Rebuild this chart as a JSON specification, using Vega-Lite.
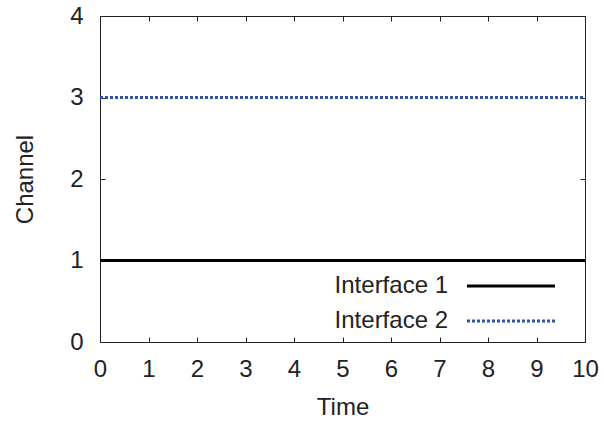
{
  "$schema": "https://vega.github.io/schema/vega-lite/v6.json",
  "width": 485,
  "height": 326,
  "autosize": "none",
  "padding": {"left": 100, "top": 16, "right": 19, "bottom": 79},
  "background": "white",
  "config": {
    "view": {"stroke": "#222222", "strokeWidth": 1},
    "font": "Liberation Sans",
    "axis": {
      "domain": false,
      "grid": false,
      "tickColor": "#222222",
      "tickSize": -5,
      "tickWidth": 1,
      "labelFont": "Liberation Sans",
      "labelFontSize": 24,
      "labelColor": "#222222",
      "titleFont": "Liberation Sans",
      "titleFontSize": 24,
      "titleFontWeight": "normal",
      "titleColor": "#222222",
      "labelFlush": false,
      "labelOverlap": false
    }
  },
  "data": {
    "values": [
      {"time": 0, "channel": 1, "series": "Interface 1"},
      {"time": 10, "channel": 1, "series": "Interface 1"},
      {"time": 0, "channel": 3, "series": "Interface 2"},
      {"time": 10, "channel": 3, "series": "Interface 2"}
    ]
  },
  "layer": [
    {
      "mark": {"type": "line", "strokeWidth": 3, "clip": true},
      "encoding": {
        "x": {
          "field": "time", "type": "quantitative",
          "scale": {"domain": [0, 10], "nice": false},
          "axis": {"orient": "bottom", "values": [0,1,2,3,4,5,6,7,8,9,10], "format": "d", "title": "Time", "labelPadding": 20, "titlePadding": 14}
        },
        "y": {
          "field": "channel", "type": "quantitative",
          "scale": {"domain": [0, 4], "nice": false},
          "axis": {"orient": "left", "values": [0,1,2,3,4], "format": "d", "title": "Channel", "labelPadding": 22, "titlePadding": 32}
        },
        "color": {
          "field": "series", "type": "nominal",
          "scale": {"domain": ["Interface 1", "Interface 2"], "range": ["#000000", "#2f52ab"]},
          "legend": {
            "orient": "none",
            "legendX": 348,
            "legendY": 258,
            "title": null,
            "padding": 0,
            "symbolType": "M-4.4,0H4.4",
            "symbolSize": 400,
            "symbolStrokeWidth": 3,
            "labelFont": "Liberation Sans",
            "labelFontSize": 24,
            "labelColor": "#222222",
            "rowPadding": 11,
            "encode": {
              "labels": {"update": {"x": {"value": 0}, "align": {"value": "right"}}},
              "symbols": {"update": {"x": {"value": 63}}}
            }
          }
        },
        "strokeDash": {
          "field": "series", "type": "nominal",
          "scale": {"domain": ["Interface 1", "Interface 2"], "range": [[1, 0], [3, 2]]},
          "legend": null
        }
      }
    },
    {
      "mark": {"type": "line", "opacity": 0},
      "encoding": {
        "x": {
          "field": "time", "type": "quantitative",
          "axis": {"orient": "top", "values": [0,1,2,3,4,5,6,7,8,9,10], "labels": false, "title": null}
        },
        "y": {
          "field": "channel", "type": "quantitative",
          "axis": {"orient": "right", "values": [0,1,2,3,4], "labels": false, "title": null}
        }
      }
    }
  ],
  "resolve": {"axis": {"x": "independent", "y": "independent"}}
}
